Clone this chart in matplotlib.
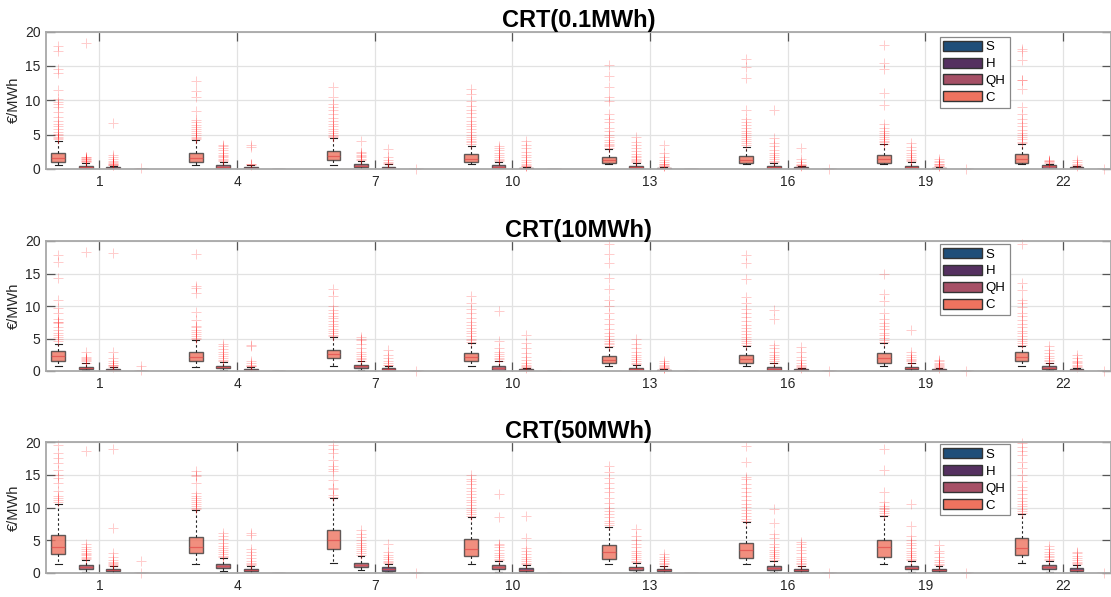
import matplotlib
matplotlib.use("Agg")
import matplotlib.pyplot as plt
from matplotlib.patches import Patch

plt.rcParams['font.family'] = ['Liberation Sans', 'DejaVu Sans']

hours = [1, 4, 7, 10, 13, 16, 19, 22]
series = ['C', 'QH', 'H', 'S']
legend_order = ['S', 'H', 'QH', 'C']
titles = ['CRT(0.1MWh)', 'CRT(10MWh)', 'CRT(50MWh)']
ylabel = '€/MWh'

# box statistics per hour group: (whisker low, q1, median, q3, whisker high)
p1_C = [(0.58, 0.97, 1.55, 2.28, 4.1), (0.6, 1.0, 1.6, 2.3, 4.2), (0.6, 1.3, 1.9, 2.6, 4.5),
        (0.72, 1.07, 1.5, 2.14, 3.3), (0.7, 0.92, 1.3, 1.75, 2.9), (0.7, 0.92, 1.3, 1.9, 3.2),
        (0.7, 0.92, 1.4, 2.0, 3.6), (0.7, 0.92, 1.5, 2.14, 3.7)]
p1_QH = [(0.05, 0.19, 0.35, 0.48, 0.92), (0.05, 0.15, 0.3, 0.55, 1.0), (0.05, 0.25, 0.45, 0.7, 1.2),
         (0.05, 0.2, 0.35, 0.55, 1.0), (0.03, 0.15, 0.28, 0.45, 0.9), (0.03, 0.15, 0.28, 0.45, 0.9),
         (0.03, 0.15, 0.3, 0.5, 1.0), (0.05, 0.2, 0.4, 0.6, 0.8)]
p1_H = [(0.0, 0.08, 0.15, 0.28, 0.5), (0.0, 0.07, 0.15, 0.3, 0.55), (0.0, 0.1, 0.2, 0.35, 0.7),
        (0.0, 0.05, 0.1, 0.2, 0.35), (0.0, 0.05, 0.1, 0.2, 0.35), (0.0, 0.05, 0.1, 0.25, 0.4),
        (0.0, 0.05, 0.1, 0.2, 0.35), (0.0, 0.05, 0.12, 0.25, 0.4)]

p2_C = [(0.77, 1.59, 2.3, 3.08, 4.15), (0.66, 1.59, 2.2, 2.97, 4.77), (0.77, 1.95, 2.6, 3.23, 5.28),
        (0.82, 1.54, 2.1, 2.72, 4.26), (0.77, 1.18, 1.7, 2.3, 3.74), (0.77, 1.18, 1.8, 2.46, 3.85),
        (0.77, 1.28, 2.0, 2.72, 4.26), (0.77, 1.54, 2.1, 2.87, 3.9)]
p2_QH = [(0.1, 0.26, 0.45, 0.66, 1.18), (0.15, 0.41, 0.6, 0.82, 1.4), (0.15, 0.46, 0.7, 0.97, 1.5),
         (0.05, 0.23, 0.45, 0.75, 1.5), (0.05, 0.15, 0.3, 0.5, 1.0), (0.05, 0.15, 0.35, 0.66, 1.2),
         (0.05, 0.26, 0.45, 0.66, 1.2), (0.1, 0.3, 0.5, 0.75, 1.2)]
p2_H = [(0.0, 0.1, 0.2, 0.35, 0.6), (0.0, 0.1, 0.2, 0.35, 0.6), (0.0, 0.15, 0.28, 0.45, 0.8),
        (0.0, 0.05, 0.12, 0.25, 0.45), (0.0, 0.05, 0.12, 0.2, 0.35), (0.0, 0.05, 0.12, 0.25, 0.45),
        (0.0, 0.05, 0.12, 0.25, 0.45), (0.0, 0.05, 0.15, 0.3, 0.5)]

p3_C = [(1.37, 2.85, 4.0, 5.8, 10.6), (1.4, 3.0, 4.0, 5.54, 9.6), (1.48, 3.6, 5.0, 6.56, 11.4),
        (1.37, 2.65, 3.6, 5.14, 8.5), (1.3, 2.09, 3.2, 4.22, 7.07), (1.3, 2.24, 3.5, 4.63, 7.8),
        (1.3, 2.4, 3.9, 5.04, 8.7), (1.5, 2.75, 3.8, 5.34, 9.0)]
p3_QH = [(0.2, 0.56, 0.85, 1.22, 1.98), (0.3, 0.71, 1.0, 1.37, 2.24), (0.4, 0.87, 1.2, 1.58, 2.65),
         (0.2, 0.56, 0.9, 1.22, 1.83), (0.2, 0.5, 0.75, 0.97, 1.6), (0.15, 0.46, 0.75, 1.07, 1.8),
         (0.15, 0.56, 0.8, 1.07, 1.8), (0.2, 0.66, 0.9, 1.27, 1.9)]
p3_H = [(0.05, 0.25, 0.4, 0.6, 1.0), (0.05, 0.3, 0.45, 0.66, 1.1), (0.1, 0.36, 0.6, 0.87, 1.4),
        (0.05, 0.35, 0.5, 0.7, 1.2), (0.05, 0.25, 0.4, 0.6, 1.0), (0.05, 0.3, 0.45, 0.6, 1.0),
        (0.05, 0.25, 0.45, 0.66, 1.1), (0.05, 0.31, 0.5, 0.77, 1.2)]

S_stat = [(0.0, 0.0, 0.0, 0.02, 0.04)] * 8

# outliers per hour group
p1_C_out = [[4.3, 4.5, 4.7, 4.9, 5.1, 5.4, 5.8, 6.3, 6.6, 7.0, 7.6, 8.3, 9.0, 9.5, 9.8, 10.2, 11.5, 14.0, 14.5, 17.2, 17.9],
            [4.3, 4.5, 4.7, 4.9, 5.2, 5.5, 5.8, 6.1, 6.4, 6.8, 7.1, 8.4, 10.5, 11.3, 12.8],
            [4.6, 4.8, 5.0, 5.2, 5.5, 5.8, 6.2, 6.6, 7.0, 7.4, 8.0, 8.6, 9.0, 9.4, 10.5, 12.0],
            [3.7, 3.9, 4.1, 4.4, 4.7, 5.0, 5.4, 5.8, 6.2, 6.6, 7.0, 7.6, 8.1, 8.6, 9.2, 9.9, 10.9, 11.6],
            [3.0, 3.3, 3.5, 3.7, 3.9, 4.2, 4.6, 5.0, 5.5, 6.0, 6.8, 7.3, 8.0, 9.9, 10.5, 12.0, 13.5, 15.1],
            [3.5, 3.8, 4.1, 4.4, 4.7, 5.0, 5.3, 5.6, 6.0, 6.4, 6.8, 7.3, 8.6, 13.3, 14.8, 16.0],
            [3.7, 3.9, 4.1, 4.3, 4.6, 4.9, 5.2, 5.6, 6.0, 6.5, 9.3, 11.0, 14.5, 15.4, 18.0],
            [3.8, 4.0, 4.3, 4.6, 4.9, 5.3, 5.7, 6.2, 6.7, 7.3, 8.0, 9.0, 11.7, 12.9, 13.0, 15.9, 17.1, 17.5]]
p1_QH_out = [[1.0, 1.1, 1.2, 1.3, 1.4, 1.5, 1.6, 1.7, 1.8, 18.4],
             [1.1, 1.3, 1.5, 1.7, 1.9, 2.1, 2.4, 2.7, 3.0, 3.3, 3.5],
             [1.3, 1.5, 1.7, 1.9, 2.1, 2.3, 2.5, 4.1],
             [1.1, 1.3, 1.5, 1.8, 2.1, 2.4, 2.8, 3.1, 3.4],
             [1.0, 1.1, 1.3, 1.5, 1.7, 1.9, 2.2, 2.6, 3.0, 3.5, 4.0, 4.7],
             [1.0, 1.2, 1.4, 1.7, 2.0, 2.4, 2.8, 3.3, 3.8, 4.5, 8.6],
             [1.1, 1.3, 1.5, 1.8, 2.1, 2.4, 2.8, 3.2, 3.8],
             [0.9, 1.0, 1.1, 1.2, 1.3]]
p1_H_out = [[0.55, 0.6, 0.7, 0.8, 0.9, 1.0, 1.2, 1.5, 1.8, 2.0, 6.7],
            [0.6, 0.7, 0.8, 3.2, 3.5],
            [0.75, 0.85, 1.0, 1.3, 1.7, 2.9],
            [0.4, 0.5, 0.6, 0.8, 1.0, 1.3, 1.7, 2.1, 2.5, 3.0, 3.5, 4.1],
            [0.4, 0.5, 0.6, 0.7, 0.8, 1.0, 1.3, 1.7, 2.3, 3.5],
            [0.45, 0.55, 0.65, 0.8, 1.0, 1.5, 3.0],
            [0.4, 0.5, 0.6, 0.7, 0.8, 1.0, 1.2, 1.4],
            [0.5, 0.6, 0.8, 1.0, 1.3]]
p1_S_out = [[0.1], [], [0.05], [], [], [0.05], [0.05], [0.05]]

p2_C_out = [[4.6, 5.0, 5.3, 5.6, 5.9, 6.3, 6.7, 7.4, 7.5, 7.6, 8.0, 9.0, 9.7, 11.0, 14.3, 16.7, 17.8],
            [4.9, 5.1, 5.4, 5.7, 6.0, 6.3, 6.7, 7.0, 7.9, 9.1, 12.0, 12.8, 13.1, 18.0],
            [5.4, 5.6, 5.9, 6.2, 6.5, 6.9, 7.3, 7.7, 8.1, 8.5, 9.0, 9.4, 10.0, 11.5, 12.6],
            [4.4, 4.7, 5.0, 5.4, 5.8, 6.2, 6.6, 7.1, 7.6, 8.2, 8.9, 9.6, 10.4, 11.6],
            [3.9, 4.1, 4.3, 4.6, 5.0, 5.4, 5.9, 6.5, 7.3, 8.0, 9.0, 10.0, 11.0, 12.6, 14.3, 16.6, 18.0, 19.6],
            [4.0, 4.3, 4.6, 4.9, 5.3, 5.7, 6.1, 6.6, 7.1, 7.7, 8.3, 8.9, 9.6, 10.5, 11.4, 14.2, 16.6, 17.85],
            [4.5, 4.8, 5.1, 5.5, 5.9, 6.4, 6.9, 7.4, 8.0, 9.0, 10.8, 11.8, 15.0],
            [4.0, 4.3, 4.6, 5.0, 5.4, 5.8, 6.2, 6.7, 7.2, 7.8, 8.4, 9.0, 9.8, 10.5, 11.0, 12.5, 13.5, 19.6]]
p2_QH_out = [[1.3, 1.5, 1.7, 1.9, 2.0, 2.2, 3.0, 18.3],
             [1.5, 1.7, 2.0, 2.3, 2.6, 3.0, 3.4, 3.8, 4.15],
             [1.6, 1.8, 2.0, 2.3, 2.6, 3.0, 3.5, 4.1, 4.7, 5.0, 5.2],
             [1.6, 1.8, 2.0, 2.3, 2.6, 3.0, 3.5, 4.6, 9.2],
             [1.1, 1.3, 1.5, 1.8, 2.1, 2.5, 3.0, 3.5, 4.1, 4.87],
             [1.3, 1.5, 1.8, 2.1, 2.5, 3.0, 3.5, 4.0, 8.0, 9.4],
             [1.3, 1.5, 1.7, 1.9, 2.2, 2.5, 3.0, 6.3],
             [1.3, 1.5, 1.7, 2.0, 2.3, 2.7, 3.2, 3.85]]
p2_H_out = [[0.65, 0.75, 0.85, 1.0, 1.3, 1.6, 2.0, 2.9, 18.2],
            [0.7, 0.8, 0.9, 1.3, 1.6, 3.8, 4.0],
            [0.9, 1.0, 1.2, 1.5, 2.0, 2.5, 3.3],
            [0.5, 0.6, 0.8, 1.0, 1.3, 1.7, 2.2, 2.8, 3.5, 4.3, 5.5],
            [0.4, 0.5, 0.6, 0.8, 1.0, 1.2, 1.6],
            [0.5, 0.6, 0.8, 1.0, 1.3, 1.7, 2.2, 3.0, 3.7],
            [0.5, 0.6, 0.7, 0.9, 1.1, 1.3, 1.5, 1.7],
            [0.6, 0.8, 1.0, 1.2, 1.4, 1.6, 2.0, 2.5]]
p2_S_out = [[0.1, 0.8], [], [0.05], [], [], [0.05], [0.05], [0.05]]

p3_C_out = [[10.9, 11.2, 11.5, 11.8, 12.5, 13.8, 14.5, 15.0, 15.8, 16.8, 17.5, 18.3, 19.6],
            [9.8, 10.0, 10.3, 10.6, 10.9, 11.2, 11.5, 11.8, 12.2, 13.8, 14.8, 15.0, 15.6],
            [11.6, 11.9, 12.8, 13.0, 14.2, 15.5, 15.9, 16.3, 17.2, 18.3, 19.0, 19.6],
            [8.7, 9.0, 9.3, 9.6, 10.0, 10.4, 10.8, 11.2, 11.6, 12.0, 12.5, 13.0, 13.6, 14.0, 14.3, 15.0],
            [7.3, 7.6, 8.0, 8.5, 9.0, 9.4, 10.0, 10.7, 11.5, 12.4, 13.0, 13.8, 14.5, 15.4, 16.4],
            [8.0, 8.3, 8.7, 9.1, 9.6, 10.1, 10.6, 11.2, 11.8, 12.4, 13.0, 13.6, 14.3, 14.6, 17.0, 19.4],
            [8.9, 9.1, 9.4, 9.7, 10.0, 10.3, 10.8, 12.3, 15.8, 18.9],
            [9.2, 9.5, 9.8, 10.2, 10.6, 11.0, 11.5, 12.0, 12.6, 13.2, 14.0, 15.0, 16.0, 17.0, 18.0, 18.7, 19.2, 19.8]]
p3_QH_out = [[2.1, 2.3, 2.5, 2.7, 2.9, 3.1, 3.3, 3.6, 4.0, 4.5, 18.7],
             [2.4, 2.6, 2.9, 3.2, 3.5, 3.8, 4.1, 4.6, 5.2, 5.7, 6.1],
             [2.8, 3.0, 3.3, 3.6, 3.9, 4.2, 4.6, 5.0, 5.5, 6.0, 6.6],
             [2.0, 2.2, 2.5, 2.8, 3.1, 3.5, 3.9, 4.3, 4.5, 8.6, 12.1],
             [1.7, 1.9, 2.1, 2.4, 2.7, 3.0, 3.4, 3.9, 4.4, 5.0, 5.6, 6.67],
             [2.0, 2.3, 2.6, 2.9, 3.2, 3.5, 4.0, 4.5, 5.3, 6.0, 7.7, 9.7],
             [2.0, 2.2, 2.5, 2.8, 3.1, 3.4, 3.8, 4.2, 4.6, 5.0, 5.6, 7.2, 10.6],
             [2.0, 2.2, 2.4, 2.6, 2.9, 3.2, 3.6, 4.1]]
p3_H_out = [[1.1, 1.2, 1.3, 1.5, 1.7, 2.0, 2.5, 3.0, 6.9, 19.0],
            [1.2, 1.4, 1.6, 1.9, 2.3, 2.7, 3.2, 3.6, 5.8, 6.1],
            [1.5, 1.7, 1.9, 2.2, 2.5, 2.8, 3.2, 4.5],
            [1.3, 1.5, 1.8, 2.1, 2.5, 2.9, 3.3, 3.8, 5.3, 8.7],
            [1.1, 1.3, 1.5, 1.8, 2.2, 2.5, 2.9],
            [1.1, 1.3, 1.5, 1.8, 2.1, 2.5, 3.0, 3.5, 4.0, 4.4, 4.8],
            [1.2, 1.4, 1.7, 2.0, 2.5, 3.0, 3.4, 4.3],
            [1.3, 1.5, 1.7, 2.0, 2.3, 2.6, 3.0, 3.25]]
p3_S_out = [[0.05, 1.9], [], [0.05], [], [], [0.05], [0.05], [0.05]]

colors = {'S': '#1f4e79', 'H': '#553060', 'QH': '#a65066', 'C': '#ee735f'}
offsets = {'C': -0.9, 'QH': -0.3, 'H': 0.3, 'S': 0.9}

panels = [
    {'C': (p1_C, p1_C_out), 'QH': (p1_QH, p1_QH_out), 'H': (p1_H, p1_H_out), 'S': (S_stat, p1_S_out)},
    {'C': (p2_C, p2_C_out), 'QH': (p2_QH, p2_QH_out), 'H': (p2_H, p2_H_out), 'S': (S_stat, p2_S_out)},
    {'C': (p3_C, p3_C_out), 'QH': (p3_QH, p3_QH_out), 'H': (p3_H, p3_H_out), 'S': (S_stat, p3_S_out)},
]

W, H = 1111, 597
fig = plt.figure(figsize=(W / 100, H / 100), dpi=100)
# axes rects in pixels: (top, bottom)
rects = [(31.5, 169), (241, 371), (442, 573)]
left_px, right_px = 46, 1111
legend_tops = [0.962, 0.977, 0.982]

for pi, (top, bot) in enumerate(rects):
    ax = fig.add_axes([left_px / W, (H - bot) / H, (right_px - left_px) / W, (bot - top) / H])
    for s in series:
        stats, outs = panels[pi][s]
        bx = []
        for (lo, q1, med, q3, hi), fl in zip(stats, outs):
            bx.append(dict(whislo=lo, q1=q1, med=med, q3=q3, whishi=hi, fliers=fl))
        pos = [h + offsets[s] for h in hours]
        res = ax.bxp(bx, positions=pos, widths=0.3, patch_artist=True, manage_ticks=False,
                     capwidths=0.15,
                     boxprops=dict(facecolor=colors[s], edgecolor='#3c3c3c', linewidth=1.0, alpha=0.8),
                     medianprops=dict(color='#e04a4a', linewidth=0.9, alpha=0.7),
                     whiskerprops=dict(color='#222222', linewidth=0.8, linestyle=(0, (2.2, 2.2))),
                     capprops=dict(color='#222222', linewidth=0.8),
                     flierprops=dict(marker='+', markeredgecolor='red', markersize=7,
                                     markeredgewidth=0.7, alpha=0.2, linestyle='none'))
        for f in res['fliers']:
            f.set_clip_on(False)
    ax.set_xlim(-0.166, 23.05)
    ax.set_ylim(0, 20)
    ax.set_xticks(hours)
    ax.set_xticklabels([str(h) for h in hours])
    ax.set_yticks([0, 5, 10, 15, 20])
    ax.grid(True, color='#e2e2e2', linewidth=0.9)
    ax.set_axisbelow(True)
    ax.tick_params(axis='both', direction='in', length=6.5, width=0.9, color='#555555',
                   labelsize=10, labelcolor='#262626', top=True, right=True, pad=4)
    for sp in ax.spines.values():
        sp.set_color('#a8a8a8')
        sp.set_linewidth(1.3)
    ax.set_ylabel(ylabel, fontsize=10.5, color='#262626', labelpad=3)
    ax.set_title(titles[pi], fontsize=17, fontweight='bold', pad=3)
    handles = [Patch(facecolor=colors[k], edgecolor='#333333', linewidth=1.0, label=k) for k in legend_order]
    leg = ax.legend(handles=handles, loc='upper left', bbox_to_anchor=(0.839, legend_tops[pi]),
                    fontsize=9.5, handlelength=2.9, handleheight=0.8, labelspacing=0.32,
                    handletextpad=0.3, borderpad=0.3, borderaxespad=0, fancybox=False,
                    framealpha=1, edgecolor='#888888')
    leg.get_frame().set_linewidth(0.9)

fig.savefig('out.png', dpi=100)
